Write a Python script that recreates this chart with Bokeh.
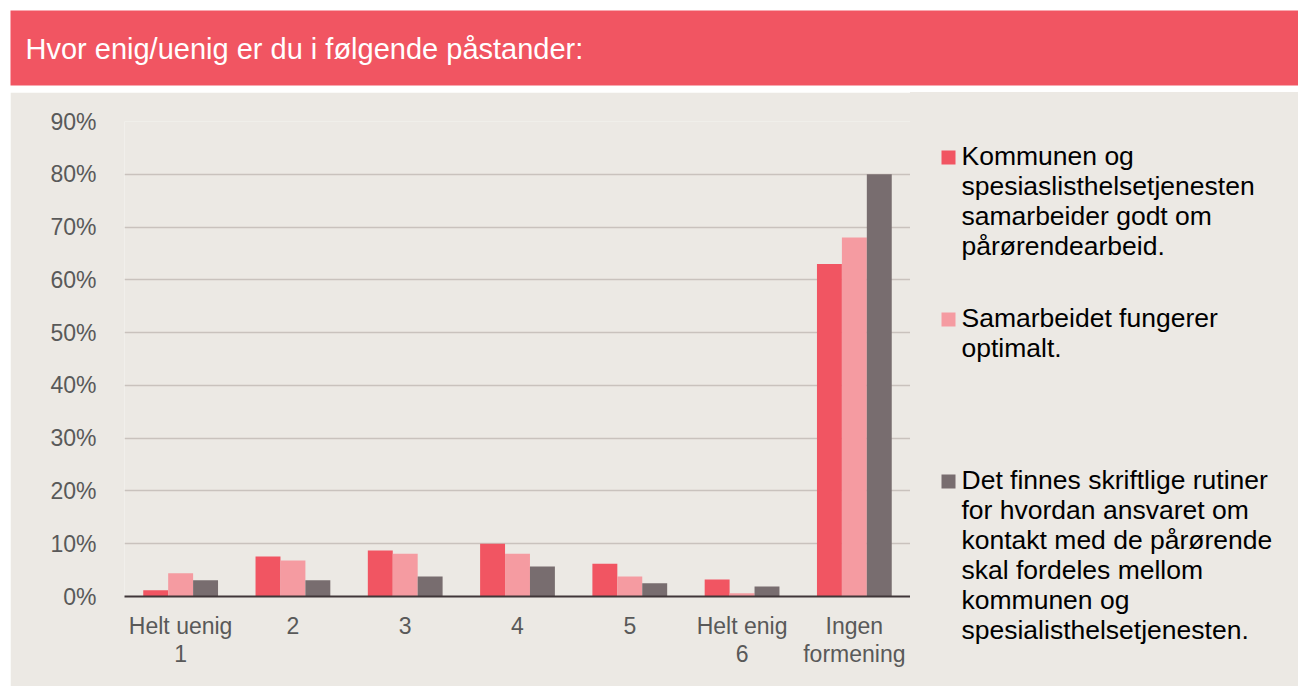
from bokeh.plotting import figure
from bokeh.models import (ColumnDataSource, Range1d, FactorRange, FixedTicker,
                          NumeralTickFormatter, CategoricalAxis, Spacer)
from bokeh.layouts import column, row
from bokeh.transform import dodge
from bokeh.core.properties import value
from bokeh.embed import file_html
from bokeh.resources import INLINE

# ---------------- data ----------------
cat_line1 = ["Helt uenig", "2", "3", "4", "5", "Helt enig", "Ingen"]
cat_line2 = ["1", "", "", "", "", "6", "formening"]
samarbeider_godt = [0.012, 0.076, 0.087, 0.100, 0.062, 0.032, 0.63]
fungerer_optimalt = [0.044, 0.068, 0.081, 0.081, 0.038, 0.006, 0.68]
skriftlige_rutiner = [0.031, 0.031, 0.038, 0.057, 0.025, 0.019, 0.80]
y_ticks = [0.0, 0.1, 0.2, 0.3, 0.4, 0.5, 0.6, 0.7, 0.8, 0.9]

series_names = [
    ["Kommunen og", "spesiaslisthelsetjenesten", "samarbeider godt om", "pårørendearbeid."],
    ["Samarbeidet fungerer", "optimalt."],
    ["Det finnes skriftlige rutiner", "for hvordan ansvaret om", "kontakt med de pårørende",
     "skal fordeles mellom", "kommunen og", "spesialisthelsetjenesten."],
]
header_text = "Hvor enig/uenig er du i følgende påstander:"

RED = "#F15562"
PINK = "#F59BA1"
GREY = "#786D6F"
BG = "#ECE9E4"
FONT = "Liberation Sans"
colors = [RED, PINK, GREY]

# second-line factors must be unique: pad the empty ones with distinct whitespace
line2_factors = []
for i, s in enumerate(cat_line2):
    line2_factors.append(s if s else " " * (i + 1))

# ---------------- header ----------------
W = 1298
HH = 92
hdr = figure(width=W, height=HH, x_range=Range1d(0, W), y_range=Range1d(HH, 0),
             output_backend="svg", toolbar_location=None, min_border=0)
hdr.axis.visible = False
hdr.grid.visible = False
hdr.outline_line_color = None
hdr.background_fill_color = "white"
hdr.border_fill_color = "white"
hdr.quad(left=[10], right=[W], top=[10], bottom=[85], fill_color=RED, line_color=None)
hdr.text(x=[25], y=[48], text=[header_text], text_color="white",
         text_font=value(FONT), text_font_size="29px", text_baseline="middle")

# ---------------- chart ----------------
src = ColumnDataSource(dict(cats=cat_line1, a=samarbeider_godt,
                            b=fungerer_optimalt, c=skriftlige_rutiner))
H = 686 - HH
LEFT_PAD = 10
FL, FT, FB = 114, 29, 90
CW = 910 - LEFT_PAD
p = figure(width=CW, height=H, x_range=FactorRange(*cat_line1), y_range=Range1d(0, 0.9),
           output_backend="svg", toolbar_location=None,
           min_border_left=FL, min_border_right=0, min_border_top=FT, min_border_bottom=FB)
p.extra_x_ranges = {"line2": FactorRange(*line2_factors)}
p.background_fill_color = BG
p.border_fill_color = BG
p.outline_line_color = None

bw = 0.222
for key, off, col in zip(["a", "b", "c"], [-bw, 0.0, bw], colors):
    p.vbar(x=dodge("cats", off, range=p.x_range), top=key, width=bw, bottom=0,
           source=src, fill_color=col, line_color=None)

p.yaxis.ticker = FixedTicker(ticks=y_ticks)
p.yaxis.formatter = NumeralTickFormatter(format="0%")
p.yaxis.axis_line_color = None
p.yaxis.major_tick_line_color = None
p.yaxis.minor_tick_line_color = None
p.yaxis.major_label_standoff = 22

xa1 = p.xaxis[0]
xa1.axis_line_color = "#403739"
xa1.axis_line_width = 2
xa1.major_tick_line_color = None
xa1.major_label_standoff = 10

xa2 = CategoricalAxis(x_range_name="line2")
xa2.axis_line_color = None
xa2.major_tick_line_color = None
xa2.major_label_standoff = -7
p.add_layout(xa2, "below")

for ax in [xa1, xa2, p.yaxis[0]]:
    ax.major_label_text_font = FONT
    ax.major_label_text_font_size = "23px"
    ax.major_label_text_color = "#595959"
p.xgrid.grid_line_color = None
p.ygrid.grid_line_color = "#C9C2BD"
p.ygrid.grid_line_width = 1.5

# ---------------- legend panel (pixel coordinates) ----------------
LW = W - 910
leg = figure(width=LW, height=H, x_range=Range1d(910, W), y_range=Range1d(686, HH),
             output_backend="svg", toolbar_location=None, min_border=0)
leg.axis.visible = False
leg.grid.visible = False
leg.outline_line_color = None
leg.background_fill_color = BG
leg.border_fill_color = BG

item_first_line = [155, 317, 479]
line_h = 30
for lines, top, col in zip(series_names, item_first_line, colors):
    leg.rect(x=[948], y=[top + 2], width=14, height=14, fill_color=col, line_color=None)
    leg.text(x=[961] * len(lines), y=[top + i * line_h for i in range(len(lines))], text=lines,
             text_color="#000000", text_font=value(FONT), text_font_size="26.5px",
             text_baseline="middle")

spacer = Spacer(width=LEFT_PAD, height=H)
body = row(spacer, p, column(leg, styles={"background-color": BG}), spacing=0)
layout = column(hdr, body, spacing=0)
open("out.html", "w").write(file_html(layout, INLINE))
